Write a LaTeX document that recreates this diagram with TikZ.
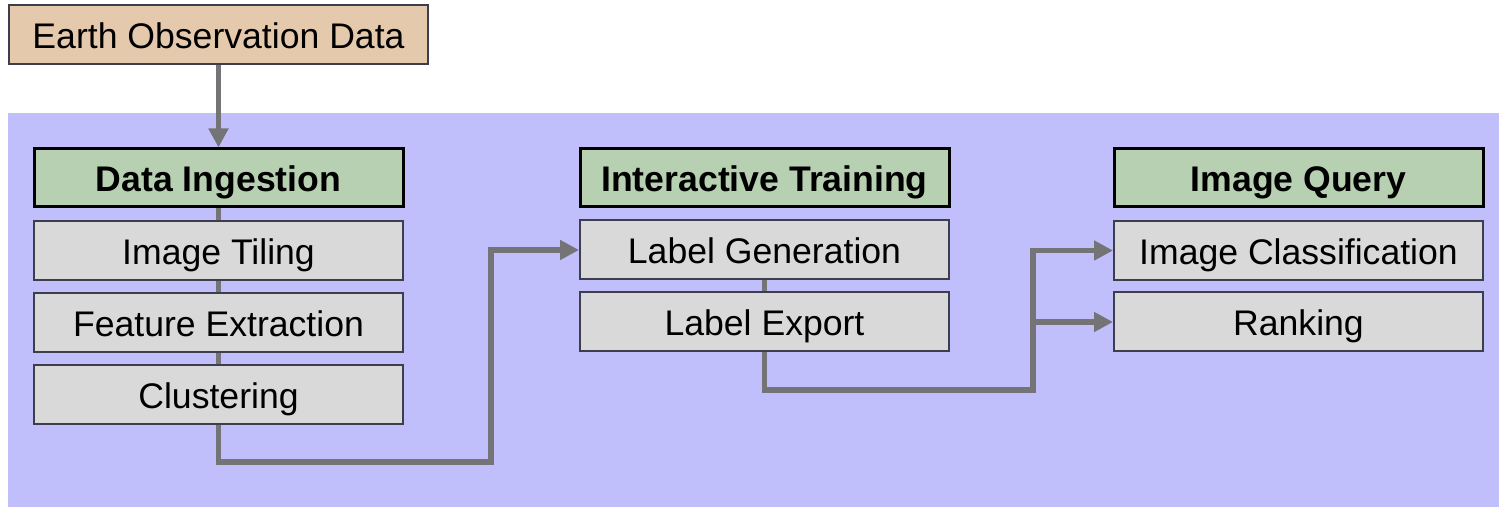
\documentclass[tikz,border=0pt]{standalone}
\usepackage{fontspec}
\setmainfont{Liberation Sans}
\usetikzlibrary{arrows.meta}
\definecolor{panel}{RGB}{192,191,252}
\definecolor{sand}{RGB}{229,201,172}
\definecolor{sage}{RGB}{184,208,178}
\definecolor{step}{RGB}{217,217,217}
\definecolor{wire}{RGB}{116,116,118}
\definecolor{rim}{RGB}{60,62,78}
\tikzset{
  x=0.5pt, y=-0.5pt,
  every node/.style={inner sep=0pt, text height=15.5pt, text depth=1.5pt, font=\fontsize{17.8}{20}\selectfont},
  source/.style={draw=rim, line width=1pt, fill=sand, minimum width=209.5pt, minimum height=29.5pt},
  header/.style={draw=black, line width=1.5pt, fill=sage, minimum width=184.5pt, minimum height=29pt, font=\fontsize{17.8}{20}\selectfont\bfseries},
  stage/.style={draw=rim, line width=1pt, fill=step, minimum width=184.5pt, minimum height=29.5pt},
  link/.style={draw=wire, line width=2.5pt},
  flow/.style={draw=wire, line width=2.6pt, -{Triangle[length=9.5pt,width=9.5pt]}},
}
\begin{document}
\begin{tikzpicture}
\useasboundingbox[fill=white] (0,0) rectangle (1499,507);
% pipeline panel
\fill[panel] (8,113) rectangle (1499,507);

% input
\node[source] (earth) at (218.5,34.5) {Earth Observation Data};

% ingestion column
\node[header] (di)    at (218.5,178)   {Data Ingestion};
\node[stage]  (tile)  at (218.5,250.5) {Image Tiling};
\node[stage]  (feat)  at (218.5,322.5) {Feature Extraction};
\node[stage]  (clus)  at (218.5,394.5) {Clustering};

% training column
\node[header] (it)    at (764.5,178)   {Interactive Training};
\node[stage]  (lgen)  at (764.5,250)   {Label Generation};
\node[stage]  (lexp)  at (764.5,322)   {Label Export};

% query column
\node[header] (iq)    at (1298.5,178)  {Image Query};
\node[stage]  (icls)  at (1298.5,250.5){Image Classification};
\node[stage]  (rank)  at (1298.5,322)  {Ranking};

% links inside each column
\draw[link] (di.south) -- (tile.north);
\draw[link] (tile.south) -- (feat.north);
\draw[link] (feat.south) -- (clus.north);
\draw[link] (lgen.south) -- (lexp.north);

% flow between stages
\coordinate (j1) at (491,462);
\coordinate (j2) at (1033,390);
\draw[flow] (earth.south) -- (di.north);
\draw[flow] (clus.south) |- (j1) |- (lgen.west);
\draw[flow] (lexp.south) |- (j2) |- (icls.west);
\draw[flow] (j2) |- (rank.west);
\end{tikzpicture}
\end{document}
